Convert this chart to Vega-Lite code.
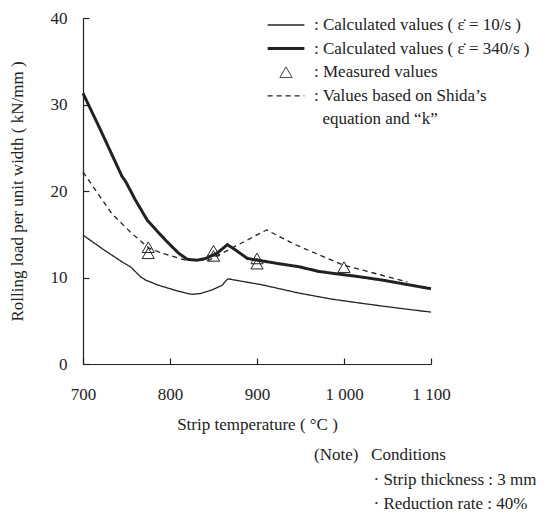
{
  "$schema": "https://vega.github.io/schema/vega-lite/v6.json",
  "width": 348,
  "height": 346,
  "padding": {"left": 8, "top": 9, "right": 5, "bottom": 5},
  "background": "white",
  "config": {
    "view": {"stroke": null},
    "font": "Liberation Serif",
    "axis": {
      "domainColor": "#222",
      "tickColor": "#222",
      "labelColor": "#222",
      "titleColor": "#222",
      "labelFont": "Liberation Serif",
      "titleFont": "Liberation Serif",
      "labelFontSize": 17,
      "titleFontSize": 17,
      "titleFontWeight": "normal",
      "grid": false,
      "ticks": true,
      "tickSize": -6,
      "domainWidth": 1.2,
      "tickWidth": 1.2,
      "labelFlush": false
    }
  },
  "title": {
    "text": ["(Note)\u00a0\u00a0\u00a0Conditions", "\u200b\u00a0\u00a0\u00a0\u00a0\u00a0\u00a0\u00a0\u00a0\u00a0\u00a0\u00a0\u00a0\u00a0\u00a0\u00b7 Strip thickness : 3 mm", "\u200b\u00a0\u00a0\u00a0\u00a0\u00a0\u00a0\u00a0\u00a0\u00a0\u00a0\u00a0\u00a0\u00a0\u00a0\u00b7 Reduction rate : 40%"],
    "orient": "bottom",
    "anchor": "start",
    "frame": "group",
    "align": "left",
    "dx": 231,
    "offset": 15,
    "font": "Liberation Serif",
    "fontSize": 17,
    "fontWeight": "normal",
    "lineHeight": 24.5,
    "color": "#222"
  },
  "datasets": {
    "curves": [
      {"series": "10/s", "t": 700, "load": 14.9},
      {"series": "10/s", "t": 724, "load": 13.2},
      {"series": "10/s", "t": 745, "load": 11.8},
      {"series": "10/s", "t": 755, "load": 11.2},
      {"series": "10/s", "t": 766, "load": 10.1},
      {"series": "10/s", "t": 772, "load": 9.7},
      {"series": "10/s", "t": 787, "load": 9.1},
      {"series": "10/s", "t": 810, "load": 8.4},
      {"series": "10/s", "t": 825, "load": 8.05},
      {"series": "10/s", "t": 835, "load": 8.15},
      {"series": "10/s", "t": 848, "load": 8.55},
      {"series": "10/s", "t": 860, "load": 9.1},
      {"series": "10/s", "t": 864, "load": 9.6},
      {"series": "10/s", "t": 867, "load": 9.85},
      {"series": "10/s", "t": 872, "load": 9.75},
      {"series": "10/s", "t": 906, "load": 9.15},
      {"series": "10/s", "t": 948, "load": 8.2},
      {"series": "10/s", "t": 986, "load": 7.5},
      {"series": "10/s", "t": 1025, "load": 6.95},
      {"series": "10/s", "t": 1063, "load": 6.45},
      {"series": "10/s", "t": 1100, "load": 6.0},
      {"series": "340/s", "t": 700, "load": 31.3},
      {"series": "340/s", "t": 719, "load": 27.3},
      {"series": "340/s", "t": 745, "load": 21.65},
      {"series": "340/s", "t": 749, "load": 21.1},
      {"series": "340/s", "t": 760, "load": 19.0},
      {"series": "340/s", "t": 774, "load": 16.6},
      {"series": "340/s", "t": 795, "load": 14.3},
      {"series": "340/s", "t": 810, "load": 12.8},
      {"series": "340/s", "t": 820, "load": 12.1},
      {"series": "340/s", "t": 831, "load": 12.0},
      {"series": "340/s", "t": 841, "load": 12.2},
      {"series": "340/s", "t": 854, "load": 12.8},
      {"series": "340/s", "t": 866, "load": 13.8},
      {"series": "340/s", "t": 875, "load": 13.2},
      {"series": "340/s", "t": 889, "load": 12.2},
      {"series": "340/s", "t": 925, "load": 11.6},
      {"series": "340/s", "t": 948, "load": 11.25},
      {"series": "340/s", "t": 971, "load": 10.7},
      {"series": "340/s", "t": 986, "load": 10.5},
      {"series": "340/s", "t": 1017, "load": 10.1},
      {"series": "340/s", "t": 1044, "load": 9.7},
      {"series": "340/s", "t": 1100, "load": 8.7},
      {"series": "shida", "t": 700, "load": 22.2},
      {"series": "shida", "t": 733, "load": 17.4},
      {"series": "shida", "t": 756, "load": 15.1},
      {"series": "shida", "t": 776, "load": 13.4},
      {"series": "shida", "t": 791, "load": 12.8},
      {"series": "shida", "t": 818, "load": 12.0},
      {"series": "shida", "t": 845, "load": 12.0},
      {"series": "shida", "t": 856, "load": 12.6},
      {"series": "shida", "t": 911, "load": 15.5},
      {"series": "shida", "t": 944, "load": 13.8},
      {"series": "shida", "t": 1000, "load": 11.4},
      {"series": "shida", "t": 1073, "load": 9.5}
    ],
    "measured": [
      {"series": "measured", "t": 775, "load": 13.5},
      {"series": "measured", "t": 775, "load": 12.8},
      {"series": "measured", "t": 850, "load": 13.1},
      {"series": "measured", "t": 850, "load": 12.5},
      {"series": "measured", "t": 900, "load": 12.2},
      {"series": "measured", "t": 900, "load": 11.6},
      {"series": "measured", "t": 1000, "load": 11.2}
    ]
  },
  "encoding": {
    "x": {
      "field": "t",
      "type": "quantitative",
      "scale": {"domain": [700, 1100], "nice": false, "zero": false},
      "axis": {
        "title": "Strip temperature ( \u00b0C )",
        "values": [700, 800, 900, 1000, 1100],
        "labelExpr": "datum.value >= 1000 ? '1 ' + format(datum.value - 1000, '03d') : datum.label",
        "labelPadding": 28,
        "titlePadding": 14
      }
    },
    "y": {
      "field": "load",
      "type": "quantitative",
      "scale": {"domain": [0, 40], "nice": false},
      "axis": {
        "title": "Rolling load per unit width ( kN/mm )",
        "values": [0, 10, 20, 30, 40],
        "labelPadding": 22,
        "titlePadding": 24
      }
    }
  },
  "layer": [
    {
      "data": {"name": "curves"},
      "mark": {"type": "line", "color": "#222", "strokeCap": "butt"},
      "encoding": {
        "detail": {"field": "series"},
        "strokeDash": {
          "field": "series",
          "type": "nominal",
          "scale": {
            "domain": ["10/s", "340/s", "measured", "shida", "shida2"],
            "range": [[1, 0], [1, 0], [1, 0], [5, 4], [1, 0]]
          },
          "legend": {
            "orient": "none",
            "legendX": 183,
            "legendY": -3,
            "title": null,
            "padding": 0,
            "clipHeight": 20,
            "rowPadding": 3.6,
            "labelOffset": 8,
            "labelFont": "Liberation Serif",
            "labelFontSize": 17,
            "labelColor": "#222",
            "labelLimit": 400,
            "symbolStrokeColor": "#222",
            "symbolFillColor": "transparent",
            "labelExpr": "datum.label == '10/s' ? ': Calculated values ( \u03b5\u0307 = 10/s )' : datum.label == '340/s' ? ': Calculated values ( \u03b5\u0307 = 340/s )' : datum.label == 'measured' ? ': Measured values' : datum.label == 'shida' ? ': Values based on Shida\u2019s' : '\u200b\u00a0\u00a0equation and \u201ck\u201d'"
          }
        },
        "strokeWidth": {
          "field": "series",
          "type": "nominal",
          "scale": {
            "type": "ordinal",
            "domain": ["10/s", "340/s", "measured", "shida", "shida2"],
            "range": [1.3, 3, 1, 1.3, 0]
          }
        }
      }
    },
    {
      "data": {"name": "measured"},
      "mark": {"type": "point", "filled": false, "color": "#222", "strokeWidth": 1, "opacity": 1},
      "encoding": {
        "shape": {
          "field": "series",
          "type": "nominal",
          "scale": {
            "domain": ["10/s", "340/s", "measured", "shida", "shida2"],
            "range": ["stroke", "stroke", "triangle-up", "stroke", "stroke"]
          }
        },
        "size": {
          "field": "series",
          "type": "nominal",
          "scale": {
            "type": "ordinal",
            "domain": ["10/s", "340/s", "measured", "shida", "shida2"],
            "range": [1350, 1350, 150, 1350, 0]
          }
        }
      }
    }
  ]
}
